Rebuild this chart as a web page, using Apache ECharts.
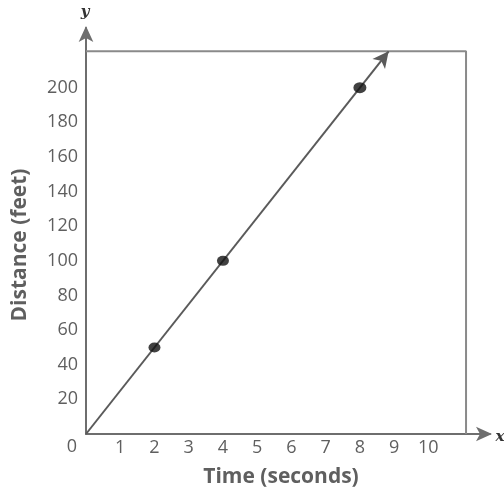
<!DOCTYPE html>
<html>
<head>
<meta charset="utf-8">
<script src="https://cdn.jsdelivr.net/npm/echarts@6/dist/echarts.min.js"></script>
<style>
  html, body { margin: 0; padding: 0; background: #fff; }
  #chart { width: 504px; height: 492px; }
</style>
</head>
<body>
<div id="chart"></div>
<script>
// Time (s) and distance (ft) of the plotted points
const timeValues = [2, 4, 8];
const distanceValues = [50, 100, 200];
// Speed of the proportional relationship, ft per s
const rate = 25;
// Frame of the plotting box (data units)
const boxX = 11.1;
const boxY = 221;
// Tick labels
const xTicks = [1, 2, 3, 4, 5, 6, 7, 8, 9, 10];
const yTicks = [20, 40, 60, 80, 100, 120, 140, 160, 180, 200];

const axisGray = '#6e6e6e';
const textGray = '#5f5f5f';
const font = '"Open Sans", "Noto Sans", sans-serif';

const points = timeValues.map((t, i) => [t, distanceValues[i]]);
const lineEndY = boxY;
const lineEndX = lineEndY / rate;

const chart = echarts.init(document.getElementById('chart'), null, { renderer: 'canvas' });

chart.setOption({
  animation: false,
  backgroundColor: '#fff',
  grid: { left: 86, top: 28, right: 14, bottom: 58, containLabel: false },
  xAxis: {
    type: 'value',
    min: 0,
    max: 11.8,
    interval: 1,
    axisLine: { show: true, lineStyle: { color: axisGray, width: 2 }, symbol: ['none', 'arrow'], symbolSize: [11, 16], symbolOffset: [0, 2] },
    axisTick: { show: false },
    splitLine: { show: false },
    axisLabel: {
      color: textGray, fontSize: 18, fontFamily: font, margin: 5,
      formatter: v => (xTicks.includes(v) ? String(v) : '')
    }
  },
  yAxis: {
    type: 'value',
    min: 0,
    max: 234.5,
    interval: 20,
    axisLine: { show: true, lineStyle: { color: axisGray, width: 2 }, symbol: ['none', 'arrow'], symbolSize: [11, 16], symbolOffset: [0, 2] },
    axisTick: { show: false },
    splitLine: { show: false },
    axisLabel: {
      color: textGray, fontSize: 18, fontFamily: font, margin: 8,
      formatter: v => (yTicks.includes(v) ? String(v) : '')
    }
  },
  series: [
    {
      // top and right edges of the frame
      type: 'line',
      data: [[0, boxY], [boxX, boxY], [boxX, 0]],
      symbol: 'none',
      lineStyle: { color: '#8a8a8a', width: 2 },
      silent: true,
      z: 1
    },
    {
      type: 'scatter',
      data: points,
      symbol: 'circle',
      symbolSize: (val) => (val[0] === 8 ? [13, 11] : [12, 10]),
      itemStyle: { color: '#111' },
      z: 5,
      markLine: {
        silent: true,
        symbol: ['none', 'arrow'],
        symbolSize: [12, 16],
        label: { show: false },
        lineStyle: { color: '#5a5a5a', width: 2, type: 'solid' },
        data: [[{ coord: [0, 0] }, { coord: [lineEndX, lineEndY] }]]
      }
    }
  ],
  graphic: [
    {
      type: 'text', x: 20, y: 245, rotation: Math.PI / 2,
      style: { text: 'Distance (feet)', fill: textGray, font: 'bold 21px ' + font, textAlign: 'center', textVerticalAlign: 'middle' }
    },
    {
      type: 'text', x: 281, y: 477,
      style: { text: 'Time (seconds)', fill: textGray, font: 'bold 21px ' + font, textAlign: 'center', textVerticalAlign: 'middle' }
    },
    {
      type: 'text', x: 72, y: 447,
      style: { text: '0', fill: textGray, font: '18px ' + font, textAlign: 'center', textVerticalAlign: 'middle' }
    },
    {
      type: 'text', x: 85, y: 12,
      style: { text: 'y', fill: '#333', font: 'italic bold 15px "DejaVu Serif", serif', textAlign: 'center', textVerticalAlign: 'middle' }
    },
    {
      type: 'text', x: 500, y: 437,
      style: { text: 'x', fill: '#333', font: 'italic bold 15px "DejaVu Serif", serif', textAlign: 'center', textVerticalAlign: 'middle' }
    }
  ]
});
</script>
</body>
</html>
